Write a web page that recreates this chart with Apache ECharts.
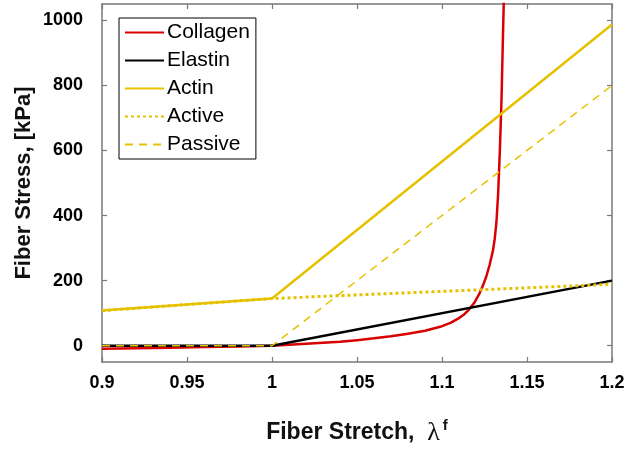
<!DOCTYPE html>
<html>
<head>
<meta charset="utf-8">
<script src="https://cdn.jsdelivr.net/npm/echarts@6/dist/echarts.min.js"></script>
<style>
  html, body { margin: 0; padding: 0; background: #fff; }
  #chart { width: 630px; height: 451px; }
</style>
</head>
<body>
<div id="chart"></div>
<script>
// Fiber stress vs. fiber stretch for the wall constituents
const stretchLinear = [0.9, 1.0, 1.2];
const elastin = [0, 0, 200];
const actin = [108, 145, 987];
const active = [108, 145, 189];
const passive = [0, 0, 800];

const collagenStretch = [0.9, 0.92, 0.94, 0.96, 0.98, 1.0, 1.01, 1.02, 1.03, 1.04, 1.05, 1.06, 1.07, 1.08,
  1.09, 1.095, 1.1, 1.105, 1.11, 1.113, 1.116, 1.119, 1.122, 1.124, 1.126, 1.128, 1.13, 1.131,
  1.132, 1.133, 1.134, 1.135, 1.136, 1.137];
const collagenStress = [-9, -8, -6, -4, -2, 0, 3, 6, 9, 12, 17, 23, 29, 37,
  46, 53, 60, 70, 85, 96, 112, 132, 160, 184, 212, 248, 293, 328,
  378, 465, 595, 755, 985, 1200];

const yTicks = [0, 200, 400, 600, 800, 1000];
const xTicks = [0.9, 0.95, 1, 1.05, 1.1, 1.15, 1.2];

const pairs = (xs, ys) => xs.map((x, i) => [x, ys[i]]);

const RED = '#d80000';
const BLACK = '#000000';
const GOLD = '#e5c100';
const FRAME = '#787878';
const FONT = '"Liberation Sans", Arial, sans-serif';

const chart = echarts.init(document.getElementById('chart'), null, { renderer: 'canvas' });

const frameAxis = {
  axisLine: { show: true, onZero: false, lineStyle: { color: FRAME, width: 1.5 } },
  axisTick: { show: true, inside: true, length: 5, lineStyle: { color: FRAME, width: 1.2 } },
  splitLine: { show: false }
};

chart.setOption({
  animation: false,
  backgroundColor: '#fff',
  grid: { left: 102, right: 18, top: 4, bottom: 85, containLabel: false },
  legend: {
    orient: 'vertical',
    left: 119,
    top: 18,
    padding: [4, 6, 4, 5],
    itemGap: 7,
    itemWidth: 39,
    itemHeight: 14,
    borderColor: '#000',
    borderWidth: 1,
    backgroundColor: '#fff',
    itemStyle: { opacity: 0 },
    textStyle: { fontFamily: FONT, fontSize: 21, color: '#000', padding: [0, 0, 0, -2] },
    data: ['Collagen', 'Elastin', 'Actin', 'Active', 'Passive']
  },
  xAxis: [
    Object.assign({}, frameAxis, {
      type: 'value', position: 'bottom', min: 0.9, max: 1.2, interval: 0.05,
      axisLabel: {
        show: true, margin: 12, color: '#000',
        fontFamily: FONT, fontSize: 18, fontWeight: 'bold',
        customValues: xTicks,
        formatter: v => String(+v.toFixed(2))
      },
      axisTick: Object.assign({}, frameAxis.axisTick, { customValues: xTicks }),
      name: '{b|Fiber Stretch,  }{l|λ}{s|f}',
      nameLocation: 'middle',
      nameGap: 56,
      nameMoveOverlap: false,
      nameTextStyle: {
        rich: {
          b: { fontFamily: FONT, fontSize: 23, fontWeight: 'bold', color: '#111' },
          l: { fontFamily: '"Liberation Serif", serif', fontSize: 26, color: '#111' },
          s: { fontFamily: FONT, fontSize: 15, fontWeight: 'bold', color: '#111', padding: [0, 0, 15, 3] }
        }
      }
    }),
    Object.assign({}, frameAxis, {
      type: 'value', position: 'top', min: 0.9, max: 1.2, interval: 0.05,
      axisLabel: { show: false },
      axisTick: Object.assign({}, frameAxis.axisTick, { customValues: xTicks })
    })
  ],
  yAxis: [
    Object.assign({}, frameAxis, {
      type: 'value', position: 'left', min: -50, max: 1050,
      axisLabel: {
        show: true, margin: 19, color: '#000',
        fontFamily: FONT, fontSize: 18, fontWeight: 'bold',
        customValues: yTicks,
        formatter: v => String(v)
      },
      axisTick: Object.assign({}, frameAxis.axisTick, { customValues: yTicks }),
      name: 'Fiber Stress, [kPa]',
      nameLocation: 'middle',
      nameGap: 67,
      nameMoveOverlap: false,
      nameTextStyle: { fontFamily: FONT, fontSize: 22, fontWeight: 'bold', color: '#111' }
    }),
    Object.assign({}, frameAxis, {
      type: 'value', position: 'right', min: -50, max: 1050,
      axisLabel: { show: false },
      axisTick: Object.assign({}, frameAxis.axisTick, { customValues: yTicks })
    })
  ],
  series: [
    {
      name: 'Collagen', type: 'line', xAxisIndex: 0, yAxisIndex: 0,
      data: pairs(collagenStretch, collagenStress),
      symbol: 'none', clip: true, color: RED,
      lineStyle: { color: RED, width: 2.5, join: 'round' }
    },
    {
      name: 'Elastin', type: 'line', xAxisIndex: 0, yAxisIndex: 0,
      data: pairs(stretchLinear, elastin),
      symbol: 'none', clip: true, color: BLACK,
      lineStyle: { color: BLACK, width: 2.5 }
    },
    {
      name: 'Actin', type: 'line', xAxisIndex: 0, yAxisIndex: 0,
      data: pairs(stretchLinear, actin),
      symbol: 'none', clip: true, color: GOLD,
      lineStyle: { color: GOLD, width: 2.5 }
    },
    {
      name: 'Active', type: 'line', xAxisIndex: 0, yAxisIndex: 0,
      data: pairs(stretchLinear, active),
      symbol: 'none', clip: true, color: GOLD,
      lineStyle: { color: GOLD, width: 3, type: [3, 3] }
    },
    {
      name: 'Passive', type: 'line', xAxisIndex: 0, yAxisIndex: 0,
      data: pairs(stretchLinear, passive),
      symbol: 'none', clip: true, color: GOLD,
      lineStyle: { color: GOLD, width: 1.5, type: [8, 6] }
    }
  ]
});
</script>
</body>
</html>
